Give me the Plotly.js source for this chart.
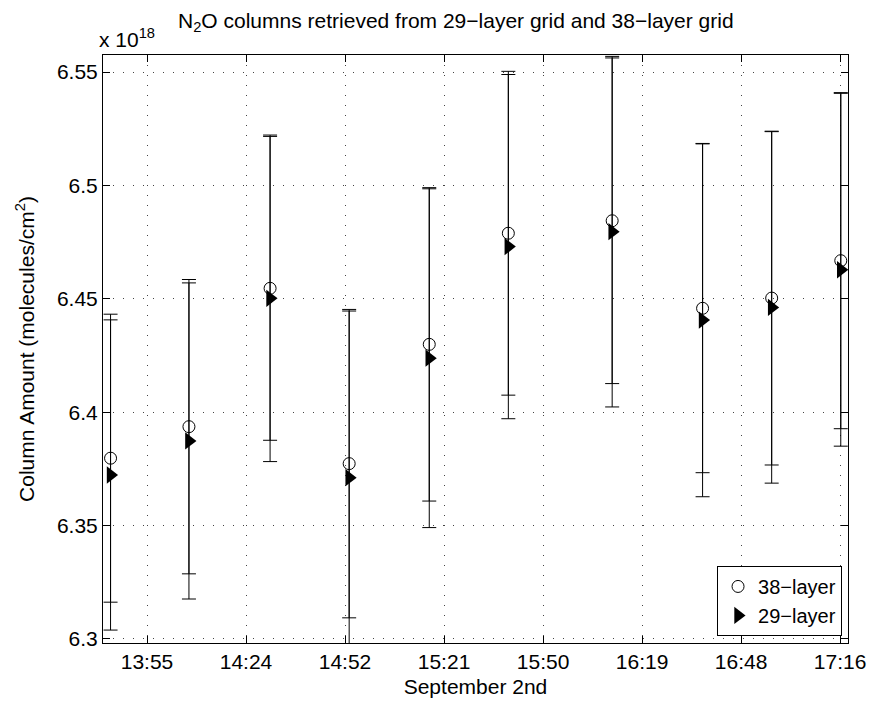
<!DOCTYPE html>
<html><head><meta charset="utf-8">
<script src="https://cdn.plot.ly/plotly-3.0.1.min.js"></script>
<style>html,body{margin:0;padding:0;background:#fff}</style>
</head><body><div id="chart" style="width:872px;height:708px"></div>
<script>
// Observation times (September 2nd)
const times = ["13:44:36","14:07:24","14:31:00","14:54:00","15:17:18","15:40:18","16:10:30","16:36:48","16:56:54","17:17:00"];
// N2O column amounts, x 10^18 molecules/cm^2
const col38 = [6.3797, 6.3936, 6.4546, 6.3773, 6.4299, 6.4789, 6.4844, 6.4458, 6.4503, 6.4668];
const err38 = [0.0635, 0.0649, 0.0670, 0.0680, 0.0691, 0.0714, 0.0718, 0.0725, 0.0736, 0.0741];
const col29 = [6.3723, 6.3873, 6.4502, 6.3711, 6.4238, 6.4730, 6.4796, 6.4406, 6.4462, 6.4628];
const err29 = [0.0684, 0.0697, 0.0720, 0.0735, 0.0747, 0.0759, 0.0773, 0.0779, 0.0775, 0.0778];
const tickLabels = ["13:55","14:24","14:52","15:21","15:50","16:19","16:48","17:16"];
const yTicks = [6.3, 6.35, 6.4, 6.45, 6.5, 6.55];
const yTickLabels = ["6.3","6.35","6.4","6.45","6.5","6.55"];

function toMin(s){const p=s.split(":").map(Number);return p[0]*60+p[1]+(p[2]||0)/60;}
const xm = times.map(toMin);
const step = 28.8; // 0.02 day
const tickVals = tickLabels.map((_,i)=>step*(29+i));

const FONT = "Liberation Sans, Arial, Helvetica, sans-serif";
const traces = [
  {x: xm, y: col38, name: "38\u2212layer", type: "scatter", mode: "markers",
   marker: {symbol: "circle-open", size: 12, color: "#000", line: {width: 1, color: "#000"}},
   error_y: {type: "data", array: err38, visible: true, color: "#000", thickness: 1, width: 7}},
  {x: xm, y: col29, name: "29\u2212layer", type: "scatter", mode: "markers",
   marker: {symbol: "triangle-right", size: 15, color: "#000"},
   error_y: {type: "data", array: err29, visible: true, color: "#000", thickness: 1, width: 7}}
];
const axisCommon = {showline: true, linecolor: "#000", linewidth: 1, mirror: "ticks",
  ticks: "inside", ticklen: 7, tickwidth: 1, tickcolor: "#000",
  showgrid: true, gridcolor: "#444", griddash: "1px,9px", gridwidth: 1, zeroline: false,
  tickfont: {family: FONT, size: 21, color: "#000"}};
const layout = {
  width: 872, height: 708,
  margin: {l: 103, r: 24, t: 55, b: 65},
  paper_bgcolor: "#fff", plot_bgcolor: "#fff",
  showlegend: true,
  font: {family: FONT, color: "#000"},
  xaxis: Object.assign({}, axisCommon, {range: [822.4, 1039.1], tickmode: "array",
    tickvals: tickVals, ticktext: tickLabels,
    title: {text: "September 2nd", font: {family: FONT, size: 21, color: "#000"}, standoff: 7}}),
  yaxis: Object.assign({}, axisCommon, {range: [6.2982, 6.5575], tickmode: "array",
    tickvals: yTicks, ticktext: yTickLabels,
    title: {text: "Column Amount (molecules/cm<sup>2</sup>)", font: {family: FONT, size: 21, color: "#000"}, standoff: 16}}),
  legend: {x: 0.992, xanchor: "right", y: 0.012, yanchor: "bottom",
    bgcolor: "#fff", bordercolor: "#000", borderwidth: 1,
    font: {family: FONT, size: 20, color: "#000"}, itemwidth: 30, tracegroupgap: 0},
  annotations: [
    {xref: "paper", yref: "paper", x: 0, y: 1, xanchor: "left", yanchor: "bottom", yshift: 2, xshift: -6,
     text: "x 10<sup>18</sup>", showarrow: false, font: {family: FONT, size: 21, color: "#000"}},
    {xref: "paper", yref: "paper", x: 0.474, y: 1, xanchor: "center", yanchor: "bottom", yshift: 18,
     text: "N<sub>2</sub>O columns retrieved from 29\u2212layer grid and 38\u2212layer grid", showarrow: false,
     font: {family: FONT, size: 21, color: "#000"}}
  ]
};
Plotly.newPlot("chart", traces, layout, {displayModeBar: false, staticPlot: true});
</script></body></html>
